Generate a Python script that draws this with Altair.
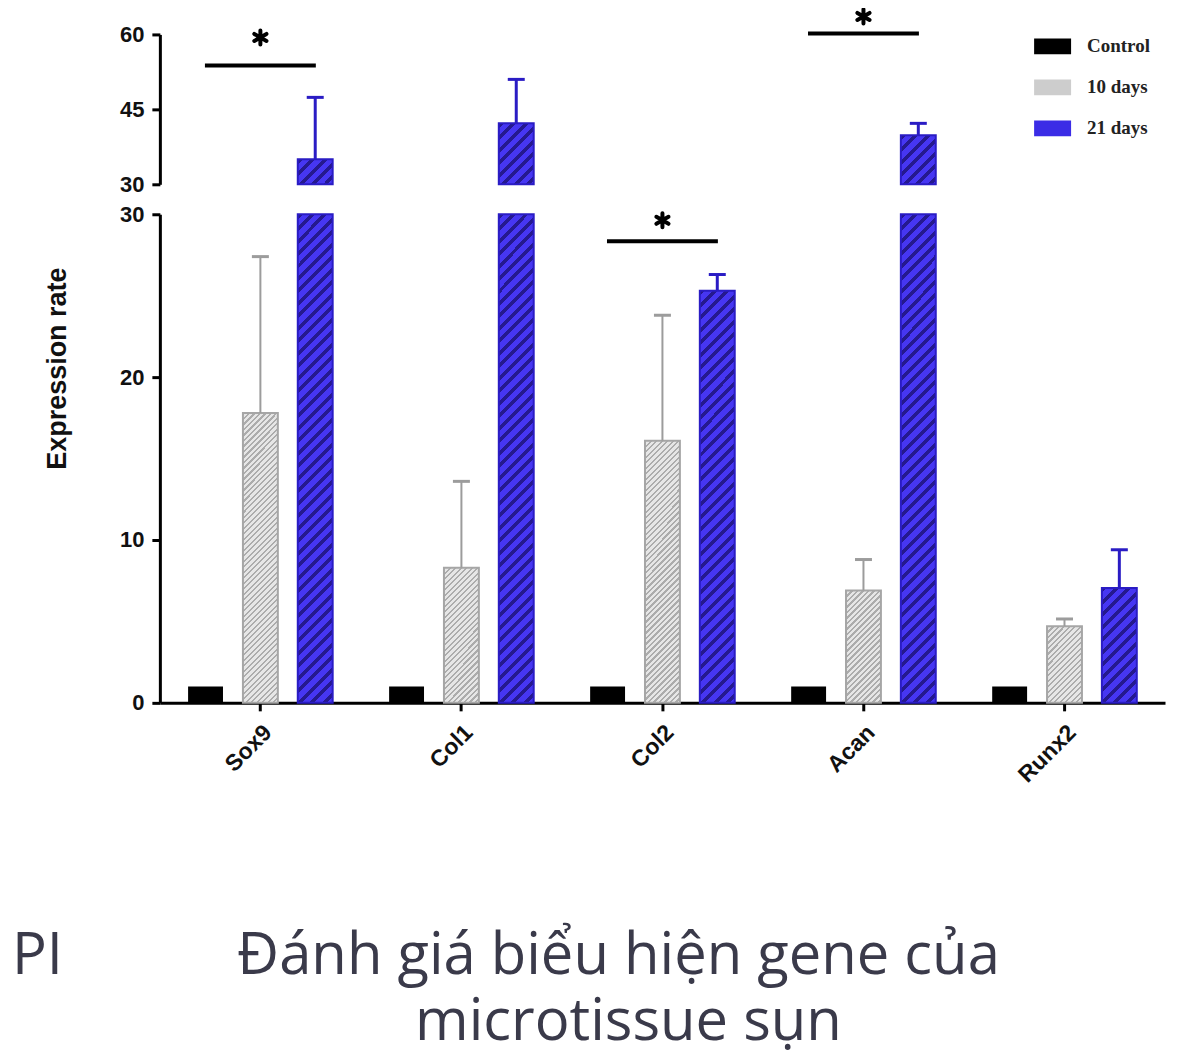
import altair as alt
import pandas as pd

# ---------------- data ----------------
genes = ["Sox9", "Col1", "Col2", "Acan", "Runx2"]
groups = ["Control", "10 days", "21 days"]
control_mean = [1.0, 1.0, 1.0, 1.0, 1.0]
d10_mean = [17.8, 8.3, 16.1, 6.9, 4.7]
d10_upper = [27.4, 13.6, 23.8, 8.8, 5.15]
d21_mean = [35.0, 42.2, 25.3, 39.8, 7.05]
d21_upper = [47.4, 51.0, 26.3, 42.2, 9.4]
sig_genes = ["Sox9", "Col2", "Acan"]
sig_line = [53.8, 28.35, 60.2]
sig_star = [59.4, 29.63, 63.6]
y_top_ticks = [30, 45, 60]
y_bottom_ticks = [0, 10, 20, 30]
y_title = "Expression rate"
caption_label = "PI"
caption_lines = ["Đánh giá biểu hiện gene của", "microtissue sụn"]

rows = []
for i, g in enumerate(genes):
    rows.append({"gene": g, "group": "Control", "mean": control_mean[i], "upper": control_mean[i]})
    rows.append({"gene": g, "group": "10 days", "mean": d10_mean[i], "upper": d10_upper[i]})
    rows.append({"gene": g, "group": "21 days", "mean": d21_mean[i], "upper": d21_upper[i]})
df = pd.DataFrame(rows)
sig_df = pd.DataFrame({"gene": sig_genes, "line": sig_line, "star": sig_star})

# ---------------- layout / style ----------------
W, H_TOP, H_BOT, GAP = 1006, 150, 489, 30
BREAK = 30
BAR_W = 35.0
FONT = "Liberation Sans"
BLUE_BG, BLUE_FG, BLUE_EDGE = "#4636f2", "#25198f", "#2a1cc4"
GRAY_BG, GRAY_FG, GRAY_EDGE = "#e6e6e6", "#acacac", "#a6a6a6"
legend_colors = ["#000000", "#cdcdcd", "#3b2ce6"]
CAPTION_COLOR = "#3a3a4a"


def stripes(h, period, frac, bg, fg, w=BAR_W):
    total = w + h
    a = total * w / (w * w + h * h)
    stops = []
    s = 0.0
    while s < total - 1e-9:
        s1 = min(s + frac * period, total)
        s2 = min(s + period, total)
        stops += [(s / total, fg), (s1 / total, fg), (s1 / total, bg), (s2 / total, bg)]
        s += period
    return alt.LinearGradient(
        gradient="linear",
        stops=[alt.GradientStop(offset=round(o, 6), color=c) for o, c in stops],
        x1=0, y1=0, x2=a, y2=a * h / w,
    )


axis_common = dict(
    domainColor="black", domainWidth=3, tickColor="black", tickWidth=3, tickSize=8,
    labelFont=FONT, labelFontWeight="bold", labelColor="#111111", grid=False,
)

x_scale = alt.Scale(domain=genes, paddingInner=0, paddingOuter=0)
xo_scale = alt.Scale(domain=groups, paddingInner=0.3636, paddingOuter=0.5145)
x_axis_bot = alt.Axis(title=None, labelAngle=-45, labelPadding=10, labelFontSize=23, **axis_common)

y_bot_axis = alt.Axis(
    values=y_bottom_ticks, title=y_title, labelPadding=8, labelFontSize=22,
    titleFont=FONT, titleFontWeight="bold", titleFontSize=27, titleColor="#111111",
    titleX=-102, titleY=154, titleAngle=270, titleAlign="center", titleBaseline="middle",
    **axis_common,
)
y_top_axis = alt.Axis(values=y_top_ticks, title=None, labelPadding=8, labelFontSize=22, **axis_common)

bot_scale = alt.Scale(domain=[0, BREAK], nice=False)
top_scale = alt.Scale(domain=[BREAK, 60], nice=False)


def xb():
    return alt.X("gene:N", scale=x_scale, axis=x_axis_bot)


def xt():
    return alt.X("gene:N", scale=x_scale, axis=None)


def xo():
    return alt.XOffset("group:N", scale=xo_scale)


def yb(field):
    return alt.Y(field, type="quantitative", scale=bot_scale, axis=y_bot_axis)


def yt(field):
    return alt.Y(field, type="quantitative", scale=top_scale, axis=y_top_axis)


legend = alt.Legend(
    title=None, orient="none", legendX=875, legendY=-6.5,
    symbolType="M-1,-0.43H1V0.43H-1Z", symbolSize=1369, symbolStrokeWidth=0, symbolOpacity=1,
    labelFont="Liberation Serif", labelFontWeight="bold", labelFontSize=19, labelColor="#222222",
    labelOffset=16, rowPadding=12, padding=0,
)

base = alt.Chart(df)

# ---------- bottom panel ----------
bot_layers = [
    base.transform_calculate(yb=f"min(datum.mean, {BREAK})").mark_bar().encode(
        x=xb(), xOffset=xo(), y=yb("yb"),
        color=alt.Color("group:N", scale=alt.Scale(domain=groups, range=legend_colors), legend=legend),
    )
]
for grp, means, period, frac, bg, fg, edge in [
    ("10 days", d10_mean, 5.5, 0.4, GRAY_BG, GRAY_FG, GRAY_EDGE),
    ("21 days", d21_mean, 12.5, 0.4, BLUE_BG, BLUE_FG, BLUE_EDGE),
]:
    for g, m in zip(genes, means):
        h = min(m, BREAK) / BREAK * H_BOT
        bot_layers.append(
            base.transform_filter(f"datum.gene == '{g}' && datum.group == '{grp}'")
            .transform_calculate(yb=f"min(datum.mean, {BREAK})")
            .mark_bar(fill=stripes(h, period, frac, bg, fg), stroke=edge, strokeWidth=2)
            .encode(x=xb(), xOffset=xo(), y=yb("yb"))
        )

for grp, col, lw in [("10 days", "#9c9c9c", 2), ("21 days", "#2a1cc4", 3)]:
    sel = base.transform_filter(f"datum.group == '{grp}' && datum.mean < {BREAK}")
    bot_layers.append(sel.mark_rule(color=col, strokeWidth=lw).encode(x=xb(), xOffset=xo(), y=yb("mean"), y2="upper:Q"))
    bot_layers.append(sel.mark_tick(color=col, thickness=3, size=17, opacity=1).encode(x=xb(), xOffset=xo(), y=yb("upper")))

sig_bot = alt.Chart(sig_df).transform_filter(f"datum.line < {BREAK}")
bot_layers.append(sig_bot.mark_tick(color="black", thickness=4, size=111, opacity=1).encode(x=xb(), y=yb("line")))
star_shape = "M0,-1L0,1M-0.87,-0.5L0.87,0.5M-0.87,0.5L0.87,-0.5"
bot_layers.append(
    sig_bot.mark_point(shape=star_shape, size=196, filled=False, stroke="black", strokeWidth=4, strokeCap="round", opacity=1)
    .encode(x=xb(), y=yb("star"))
)

# caption
cap_style = dict(baseline="alphabetic", font="Open Sans", fontSize=58, color=CAPTION_COLOR)
bot_layers.append(
    alt.Chart(pd.DataFrame({"t": [caption_label]})).mark_text(align="left", **cap_style)
    .encode(text="t:N", x=alt.value(-148), y=alt.value(760))
)
bot_layers.append(
    alt.Chart(pd.DataFrame({"t": [caption_lines[0]]})).mark_text(align="center", **cap_style)
    .encode(text="t:N", x=alt.value(459), y=alt.value(760))
)
bot_layers.append(
    alt.Chart(pd.DataFrame({"t": [caption_lines[1]]})).mark_text(align="center", **cap_style)
    .encode(text="t:N", x=alt.value(469), y=alt.value(826))
)

bottom = alt.layer(*bot_layers).properties(width=W, height=H_BOT)

# ---------- top panel ----------
top_layers = []
for g, m in zip(genes, d21_mean):
    if m > BREAK:
        h = (m - BREAK) / (60 - BREAK) * H_TOP
        top_layers.append(
            base.transform_filter(f"datum.gene == '{g}' && datum.group == '21 days'")
            .mark_bar(fill=stripes(h, 12.5, 0.4, BLUE_BG, BLUE_FG), stroke=BLUE_EDGE, strokeWidth=2)
            .encode(x=xt(), xOffset=xo(), y=yt("mean"), y2=alt.datum(BREAK))
        )
sel_top = base.transform_filter(f"datum.group == '21 days' && datum.mean > {BREAK}")
top_layers.append(sel_top.mark_rule(color="#2a1cc4", strokeWidth=3).encode(x=xt(), xOffset=xo(), y=yt("mean"), y2="upper:Q"))
top_layers.append(sel_top.mark_tick(color="#2a1cc4", thickness=3, size=17, opacity=1).encode(x=xt(), xOffset=xo(), y=yt("upper")))
sig_top = alt.Chart(sig_df).transform_filter(f"datum.line >= {BREAK}")
top_layers.append(sig_top.mark_tick(color="black", thickness=4, size=111, opacity=1).encode(x=xt(), y=yt("line")))
top_layers.append(
    sig_top.mark_point(shape=star_shape, size=196, filled=False, stroke="black", strokeWidth=4, strokeCap="round", opacity=1)
    .encode(x=xt(), y=yt("star"))
)
top = alt.layer(*top_layers).properties(width=W, height=H_TOP)

chart = (
    alt.vconcat(top, bottom, spacing=GAP, bounds="flush")
    .properties(padding={"left": 4, "top": -8, "right": 5, "bottom": 0})
    .configure_view(stroke=None)
)

chart.save("out.html", embed_options={"renderer": "svg", "actions": False})
